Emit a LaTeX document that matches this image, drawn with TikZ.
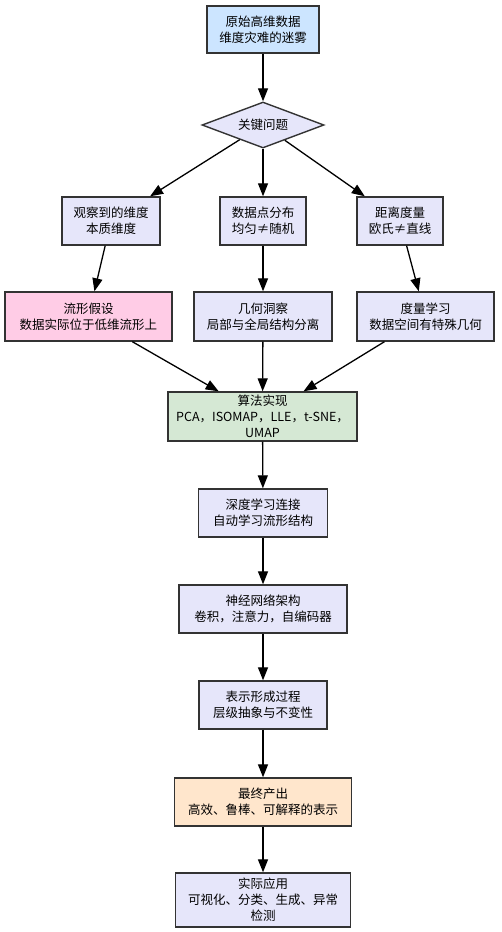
\documentclass[tikz,border=0pt]{standalone}
\usepackage{fontspec}
\setmainfont{Noto Sans CJK SC}
\usepackage{xcolor}
\usetikzlibrary{arrows.meta, shapes.geometric}
\definecolor{lightblue}{HTML}{CCE5FF}
\definecolor{lavender}{HTML}{E6E6FA}
\definecolor{softpink}{HTML}{FFCCE6}
\definecolor{palegreen}{HTML}{D5E8D4}
\definecolor{peach}{HTML}{FFE6CC}
\definecolor{darkgray}{HTML}{333333}

\begin{document}
\begin{tikzpicture}[x=1pt, y=-1pt,
  font=\fontsize{12.5}{16}\selectfont,
  box/.style={draw=darkgray, line width=1.4pt, fill=lavender, align=center,
    minimum height=48pt, inner sep=2pt},
  flow/.style={-{Triangle[length=13pt,width=10pt]}, line width=1.3pt}]
  %% 1 unit = 1 px of the 501 x 932 frame, y grows downwards
  \useasboundingbox (0,0) rectangle (501,932);

  % Start and question
  \node[box, fill=lightblue, minimum width=112pt, minimum height=47pt]
    (raw) at (263,29.5) {原始高维数据\\维度灾难的迷雾};
  \node[box, diamond, aspect=2.6, minimum width=122pt, minimum height=46pt,
    inner sep=0pt] (key) at (263,125) {关键问题};

  % Three observations
  \node[box, minimum width=98pt] (obs) at (111,221) {观察到的维度\\本质维度};
  \node[box, minimum width=86pt] (dist) at (263,221) {数据点分布\\均匀≠随机};
  \node[box, minimum width=86pt] (metric) at (400,221) {距离度量\\欧氏≠直线};

  % Three insights
  \node[box, fill=softpink, minimum width=167pt, minimum height=49pt]
    (manifold) at (88.5,316.5) {流形假设\\数据实际位于低维流形上};
  \node[box, minimum width=138pt, minimum height=49pt]
    (geom) at (263,316.5) {几何洞察\\局部与全局结构分离};
  \node[box, minimum width=137pt, minimum height=49pt]
    (learn) at (425.5,316.5) {度量学习\\数据空间有特殊几何};

  % Main chain
  \node[box, fill=palegreen, minimum width=189pt, minimum height=49pt]
    (algo) at (262.5,416.5) {算法实现\\PCA，ISOMAP，LLE，t-SNE，\\UMAP};
  \node[box, minimum width=129pt] (deep) at (263,513) {深度学习连接\\自动学习流形结构};
  \node[box, minimum width=168pt] (net) at (263,609) {神经网络架构\\卷积，注意力，自编码器};
  \node[box, minimum width=128pt] (repr) at (263,705) {表示形成过程\\层级抽象与不变性};
  \node[box, fill=peach, minimum width=177pt] (final) at (263,802)
    {最终产出\\高效、鲁棒、可解释的表示};
  \node[box, minimum width=175pt, minimum height=54pt] (app) at (263,900)
    {实际应用\\可视化、分类、生成、异常\\检测};

  % Connectors
  \foreach \a/\b in {raw/key, key/obs, key/dist, key/metric,
      obs/manifold, dist/geom, metric/learn,
      manifold/algo, geom/algo, learn/algo,
      algo/deep, deep/net, net/repr, repr/final, final/app}{
    \draw[flow] (\a) -- (\b);
  }
\end{tikzpicture}
\end{document}
